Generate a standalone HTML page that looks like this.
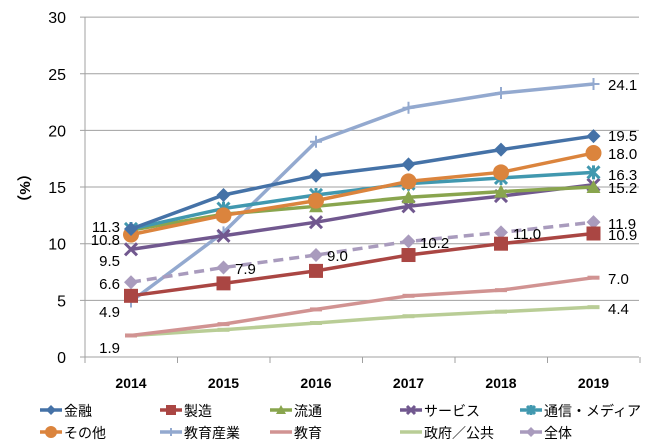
<!DOCTYPE html>
<html><head><meta charset="utf-8"><style>
body{margin:0;background:#fff}
svg{display:block;font-family:"Liberation Sans","Noto Sans CJK JP",sans-serif}
</style></head><body>
<svg id="c" width="654" height="444" viewBox="0 0 654 444" xmlns="http://www.w3.org/2000/svg"></svg>
<script>
const s=document.getElementById('c');let h='';
const Y=v=>357-11.33*v, X=i=>131+92.5*i;
for(let v=0;v<=30;v+=5){const y=Y(v);h+=`<line x1="80" y1="${y}" x2="639" y2="${y}" stroke="#a0a0a0" stroke-width="1"/>`;
h+=`<text x="66" y="${y+6}" font-size="16" text-anchor="end" fill="#000">${v}</text>`;}
h+=`<line x1="85" y1="17" x2="85" y2="362" stroke="#a0a0a0"/>`;
for(let i=0;i<=6;i++){const x=85+92.5*i;h+=`<line x1="${x}" y1="357" x2="${x}" y2="363" stroke="#a0a0a0"/>`;}
['2014','2015','2016','2017','2018','2019'].forEach((t,i)=>h+=`<text x="${X(i)}" y="388" font-size="14" font-weight="bold" text-anchor="middle">${t}</text>`);
h+=`<text transform="translate(30,188) rotate(-90)" font-size="15" font-weight="bold" text-anchor="middle">（%）</text>`;
const S=[
['政府／公共','#b9cd96',[1.9,2.4,3.0,3.6,4.0,4.4],'dash'],
['教育','#d19392',[1.9,2.9,4.2,5.4,5.9,7.0],'dash'],
['教育産業','#93a9cf',[4.9,11.0,19.0,22.0,23.3,24.1],'plus'],
['全体','#a99bbd',[6.6,7.9,9.0,10.2,11.0,11.9],'dia',1],
['製造','#aa4643',[5.4,6.5,7.6,9.0,10.0,10.9],'sq'],
['サービス','#71588f',[9.5,10.7,11.9,13.3,14.2,15.2],'x'],
['流通','#89a54e',[11.2,12.6,13.3,14.1,14.6,15.0],'tri'],
['通信・メディア','#4198af',[11.3,13.1,14.3,15.3,15.8,16.3],'star'],
['その他','#db843d',[10.8,12.5,13.8,15.5,16.3,18.0],'circ'],
['金融','#4572a7',[11.3,14.3,16.0,17.0,18.3,19.5],'dia']];
function mk(t,c,x,y,k=7){const j=k-1;switch(t){
case 'dia':return `<polygon points="${x},${y-k} ${x+k},${y} ${x},${y+k} ${x-k},${y}" fill="${c}"/>`;
case 'sq':return `<rect x="${x-k}" y="${y-k}" width="${2*k}" height="${2*k}" fill="${c}"/>`;
case 'tri':return `<polygon points="${x},${y-k} ${x+k},${y+j} ${x-k},${y+j}" fill="${c}"/>`;
case 'circ':return `<circle cx="${x}" cy="${y}" r="${k+1}" fill="${c}"/>`;
case 'x':return `<path d="M${x-j} ${y-j}L${x+j} ${y+j}M${x+j} ${y-j}L${x-j} ${y+j}" stroke="${c}" stroke-width="3"/>`;
case 'star':return `<path d="M${x-j} ${y-j}L${x+j} ${y+j}M${x+j} ${y-j}L${x-j} ${y+j}M${x} ${y-k}V${y+k}" stroke="${c}" stroke-width="3"/>`;
case 'plus':return `<path d="M${x-j} ${y}H${x+j}M${x} ${y-j}V${y+j}" stroke="${c}" stroke-width="2"/>`;
case 'dash':return `<line x1="${x-j}" y1="${y}" x2="${x+j}" y2="${y}" stroke="${c}" stroke-width="4"/>`;}}
S.forEach(([n,c,d,m,da])=>{
 h+=`<polyline points="${d.map((v,i)=>X(i)+','+Y(v)).join(' ')}" fill="none" stroke="${c}" stroke-width="3.5" ${da?'stroke-dasharray="10,6"':''}/>`;
 d.forEach((v,i)=>h+=mk(m,c,X(i),Y(v)));
});
const L=[[120,232,'11.3'],[120,245,'10.8'],[120,266,'9.5'],[120,289,'6.6'],[120,317,'4.9'],[120,353,'1.9'],
[608,90,'24.1'],[608,141,'19.5'],[608,159,'18.0'],[608,180,'16.3'],[608,193,'15.2'],[608,229,'11.9'],[608,240,'10.9'],[608,284,'7.0'],[608,314,'4.4'],
[235,274,'7.9'],[327,261,'9.0'],[420,248,'10.2'],[513,239,'11.0']];
L.forEach(([x,y,t])=>h+=`<text x="${x}" y="${y}" font-size="15" ${x<200?'text-anchor="end"':''}>${t}</text>`);
const G=[['金融','#4572a7','dia',40,410],['製造','#aa4643','sq',160,410],['流通','#89a54e','tri',270,410],['サービス','#71588f','x',400,410],['通信・メディア','#4198af','star',520,410],
['その他','#db843d','circ',40,432],['教育産業','#93a9cf','plus',160,432],['教育','#d19392','dash',270,432],['政府／公共','#b9cd96','dash',400,432],['全体','#a99bbd','dia',520,432]];
G.forEach(([n,c,m,x,y])=>{h+=`<line x1="${x}" y1="${y}" x2="${x+22}" y2="${y}" stroke="${c}" stroke-width="3.5"/>`+(m=='dash'?'':mk(m,c,x+11,y,5));
 h+=`<text x="${x+24}" y="${y+6}" font-size="14">${n}</text>`;});
s.innerHTML=h;
</script>
</body></html>
